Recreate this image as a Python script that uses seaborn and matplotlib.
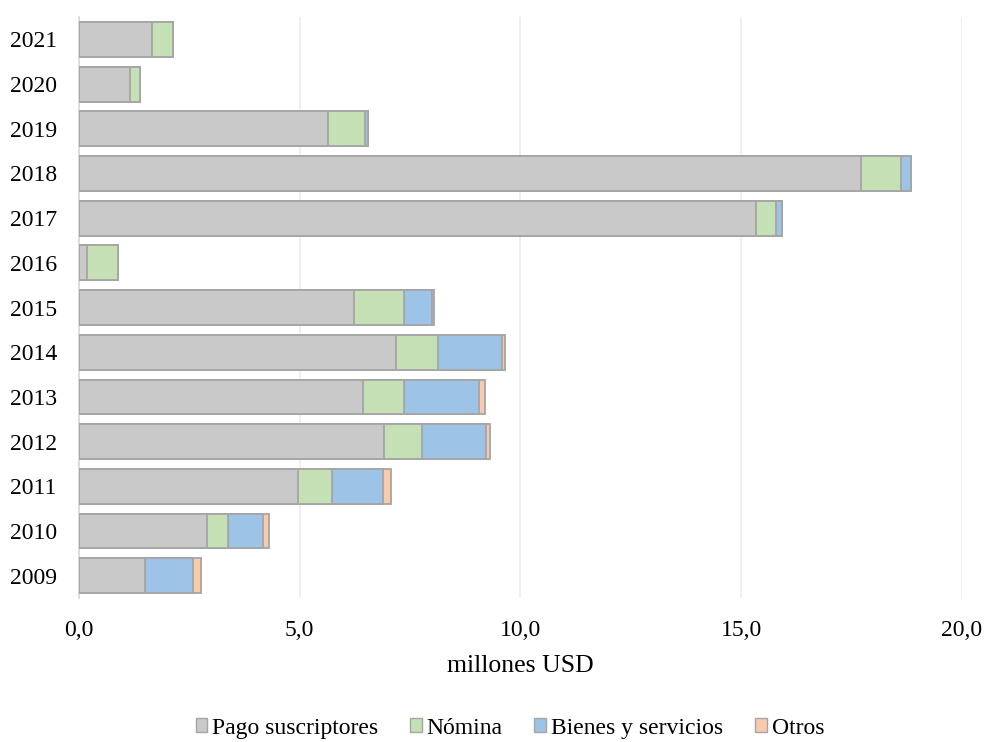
import matplotlib
matplotlib.use("Agg")
import matplotlib.pyplot as plt
import matplotlib.ticker as mticker
from matplotlib.patches import Patch
import pandas as pd
import seaborn as sns

# Data (millones USD)
years = [2021, 2020, 2019, 2018, 2017, 2016, 2015, 2014, 2013, 2012, 2011, 2010, 2009]
pago = [1.65, 1.15, 5.64, 17.72, 15.34, 0.19, 6.24, 7.17, 6.43, 6.92, 4.96, 2.90, 1.49]
nomina = [0.47, 0.24, 0.83, 0.90, 0.44, 0.69, 1.12, 0.97, 0.94, 0.84, 0.78, 0.47, 0.00]
bienes = [0.00, 0.00, 0.08, 0.23, 0.14, 0.00, 0.63, 1.44, 1.69, 1.46, 1.14, 0.79, 1.09]
otros = [0.00, 0.00, 0.00, 0.00, 0.00, 0.00, 0.06, 0.06, 0.13, 0.10, 0.19, 0.14, 0.19]

series = ["Pago suscriptores", "Nómina", "Bienes y servicios", "Otros"]
colors = ["#c9c9c9", "#c5e0b4", "#9dc3e6", "#f8cbad"]

df = pd.DataFrame({"year": [str(y) for y in years],
                   "Pago suscriptores": pago, "Nómina": nomina,
                   "Bienes y servicios": bienes, "Otros": otros})
cum = df[series].cumsum(axis=1)
cum["year"] = df["year"]

sns.set_theme(style="white")
plt.rcParams['font.family'] = ['Liberation Serif', 'DejaVu Serif']
plt.rcParams['text.color'] = 'black'
plt.rcParams['axes.labelcolor'] = 'black'

fig = plt.figure(figsize=(9.86, 7.42), dpi=100)
ax = fig.add_axes([0.0801, 0.194, 0.8955, 0.783])

# stacked bars: draw cumulative totals, last series first
order = [str(y) for y in years]
for name, col in reversed(list(zip(series, colors))):
    sns.barplot(data=cum, x=name, y="year", order=order, orient="h",
                color=col, saturation=1, width=0.78, edgecolor="#a5a5a5",
                linewidth=1.3, ax=ax, zorder=3)

ax.set_xlim(0, 20)
ax.set_ylim(12.5, -0.5)
ax.xaxis.set_major_locator(mticker.MultipleLocator(5))
ax.xaxis.set_major_formatter(mticker.FuncFormatter(lambda v, p: f"{v:.1f}".replace(".", ",")))
ax.grid(axis="x", color="#ececec", linewidth=1.2, zorder=0)
ax.set_axisbelow(True)
for s in ["top", "right", "bottom"]:
    ax.spines[s].set_visible(False)
ax.spines["left"].set_color("#d9d9d9")
ax.tick_params(axis="both", length=0, labelsize=17, colors="black")
ax.tick_params(axis="x", pad=16)
ax.tick_params(axis="y", pad=16)
ax.set_xlabel("millones USD", fontsize=18.5, labelpad=10)
ax.set_ylabel("")

handles = [Patch(facecolor=c, edgecolor="#a5a5a5", linewidth=1.0, label=n)
           for n, c in zip(series, colors)]
fig.legend(handles=handles, loc="lower center", bbox_to_anchor=(0.517, -0.024),
           ncol=4, frameon=False, fontsize=17, handlelength=0.5, handleheight=0.5,
           handletextpad=0.2, columnspacing=1.35)

fig.savefig("out.png", dpi=100)
